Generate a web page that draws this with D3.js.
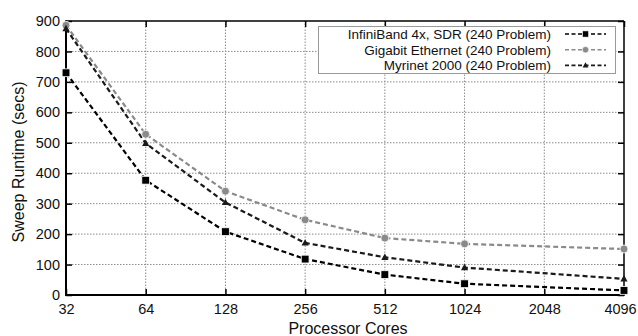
<!DOCTYPE html>
<html>
<head>
<meta charset="utf-8">
<script src="https://cdn.jsdelivr.net/npm/d3@7"></script>
<style>
  html, body { margin: 0; padding: 0; background: #fff; }
  svg { display: block; font-family: "Liberation Sans", Arial, Helvetica, sans-serif; }
</style>
</head>
<body>
<svg id="chart" width="638" height="336"></svg>
<script>
// Processor core counts along the (log2) x axis
const cores = [32, 64, 128, 256, 512, 1024, 2048, 4096];
const yTicks = [0, 100, 200, 300, 400, 500, 600, 700, 800, 900];

// Sweep runtimes (secs) measured at each core count (no run at 2048)
const measuredCores = [32, 64, 128, 256, 512, 1024, 4096];
const infinibandValues = [730, 377, 208, 118, 67, 37, 15];
const gigabitValues = [886, 528, 341, 247, 187, 168, 151];
const myrinetValues = [875, 498, 304, 171, 124, 90, 53];

const seriesNames = [
  "InfiniBand 4x, SDR (240 Problem)",
  "Gigabit Ethernet (240 Problem)",
  "Myrinet 2000 (240 Problem)"
];
const seriesColors = ["#000000", "#8a8a8a", "#1a1a1a"];
const seriesMarkers = ["square", "circle", "triangle"];
const seriesValues = [infinibandValues, gigabitValues, myrinetValues];

const series = seriesNames.map((name, i) => ({
  name,
  color: seriesColors[i],
  marker: seriesMarkers[i],
  points: measuredCores.map((c, j) => ({ x: c, y: seriesValues[i][j] }))
}));

const svg = d3.select("#chart");
const margin = { left: 66, right: 14, top: 21, bottom: 41 };
const W = 638, H = 336;
const x = d3.scaleLog().base(2).domain([32, 4096]).range([margin.left, W - margin.right]);
const y = d3.scaleLinear().domain([0, 900]).range([H - margin.bottom, margin.top]);

// Dotted grid
const grid = svg.append("g").attr("stroke", "#8c8c8c").attr("stroke-width", 1).attr("stroke-dasharray", "1.5,1.5");
grid.selectAll("line.gx").data(cores.slice(1, -1)).join("line")
  .attr("x1", d => x(d)).attr("x2", d => x(d))
  .attr("y1", y(0)).attr("y2", y(900));
grid.selectAll("line.gy").data(yTicks.slice(1, -1)).join("line")
  .attr("x1", x(32)).attr("x2", x(4096))
  .attr("y1", d => y(d)).attr("y2", d => y(d));

// Axes with inward ticks on all four sides
const tickLen = 6;
const xAxis = svg.append("g").attr("transform", `translate(0,${y(0)})`)
  .call(d3.axisBottom(x).tickValues(cores).tickFormat(d3.format("d")).tickSizeInner(-tickLen).tickSizeOuter(0).tickPadding(9));
const yAxis = svg.append("g").attr("transform", `translate(${x(32)},0)`)
  .call(d3.axisLeft(y).tickValues(yTicks).tickSizeInner(-tickLen).tickSizeOuter(0).tickPadding(6));
const xTop = svg.append("g").attr("transform", `translate(0,${y(900)})`)
  .call(d3.axisTop(x).tickValues(cores).tickFormat("").tickSizeInner(-tickLen).tickSizeOuter(0));
const yRight = svg.append("g").attr("transform", `translate(${x(4096)},0)`)
  .call(d3.axisRight(y).tickValues(yTicks).tickFormat("").tickSizeInner(-tickLen).tickSizeOuter(0));

[xAxis, yAxis, xTop, yRight].forEach(g => {
  g.select(".domain").remove();
  g.selectAll(".tick line").attr("stroke", "#000").attr("stroke-width", 1.5);
  g.selectAll(".tick text").attr("fill", "#111").attr("font-size", 14.5);
});
// Keep the last x label inside the canvas
xAxis.selectAll(".tick text").filter(d => d === 4096).attr("dx", -4);

// Frame
const frame = svg.append("g").attr("stroke", "#000").attr("fill", "none");
frame.append("line").attr("x1", x(32)).attr("x2", x(4096)).attr("y1", y(900)).attr("y2", y(900)).attr("stroke-width", 1.5);
frame.append("line").attr("x1", x(4096)).attr("x2", x(4096)).attr("y1", y(900)).attr("y2", y(0)).attr("stroke-width", 1.5);
frame.append("line").attr("x1", x(32) - 1).attr("x2", x(4096) + 0.75).attr("y1", y(0)).attr("y2", y(0)).attr("stroke-width", 2);
frame.append("line").attr("x1", x(32)).attr("x2", x(32)).attr("y1", y(900) - 0.75).attr("y2", y(0) + 1).attr("stroke-width", 2);

// Axis titles
svg.append("text").attr("x", (x(32) + x(4096)) / 2 + 3).attr("y", 334)
  .attr("text-anchor", "middle").attr("font-size", 16).attr("fill", "#111").text("Processor Cores");
svg.append("text").attr("transform", `translate(24,162) rotate(-90)`)
  .attr("text-anchor", "middle").attr("font-size", 16).attr("fill", "#111").text("Sweep Runtime (secs)");

function drawMarker(g, type, color, cx, cy, scale) {
  const s = scale || 1;
  if (type === "square") {
    g.append("rect").attr("x", cx - 3.9 * s).attr("y", cy - 3.9 * s).attr("width", 7.8 * s).attr("height", 7.8 * s)
      .attr("fill", color).attr("stroke", "#fff").attr("stroke-width", 0.8 * s);
  } else if (type === "circle") {
    g.append("circle").attr("cx", cx).attr("cy", cy).attr("r", 4 * s)
      .attr("fill", color).attr("stroke", "#fff").attr("stroke-width", 0.8 * s);
  } else {
    const r = 3.8 * s;
    g.append("path").attr("d", `M${cx},${cy - r}L${cx + r * 0.95},${cy + r * 0.7}L${cx - r * 0.95},${cy + r * 0.7}Z`)
      .attr("fill", color);
  }
}

// Series lines and markers
const line = d3.line().x(d => x(d.x)).y(d => y(d.y));
const plot = svg.append("g");
series.forEach(s => {
  plot.append("path").datum(s.points).attr("d", line)
    .attr("fill", "none").attr("stroke", s.color).attr("stroke-width", 2.2)
    .attr("stroke-dasharray", "5,3");
});
series.forEach(s => {
  const g = plot.append("g");
  s.points.forEach(p => drawMarker(g, s.marker, s.color, x(p.x), y(p.y), 1));
});

// Legend
const legend = svg.append("g");
legend.append("rect").attr("x", 318.5).attr("y", 26.5).attr("width", 297).attr("height", 47)
  .attr("fill", "#fff").attr("stroke", "#999").attr("stroke-width", 1);
series.forEach((s, i) => {
  const cy = 34 + i * 15.7;
  legend.append("text").attr("x", 551).attr("y", cy + 4.8).attr("text-anchor", "end")
    .attr("font-size", 13.5).attr("fill", "#111").text(s.name);
  legend.append("line").attr("x1", 565).attr("x2", 606).attr("y1", cy).attr("y2", cy)
    .attr("stroke", s.color).attr("stroke-width", 1.6).attr("stroke-dasharray", "4,2.5");
  drawMarker(legend, s.marker, s.color, 585.5, cy, 0.8);
});
</script>
</body>
</html>
